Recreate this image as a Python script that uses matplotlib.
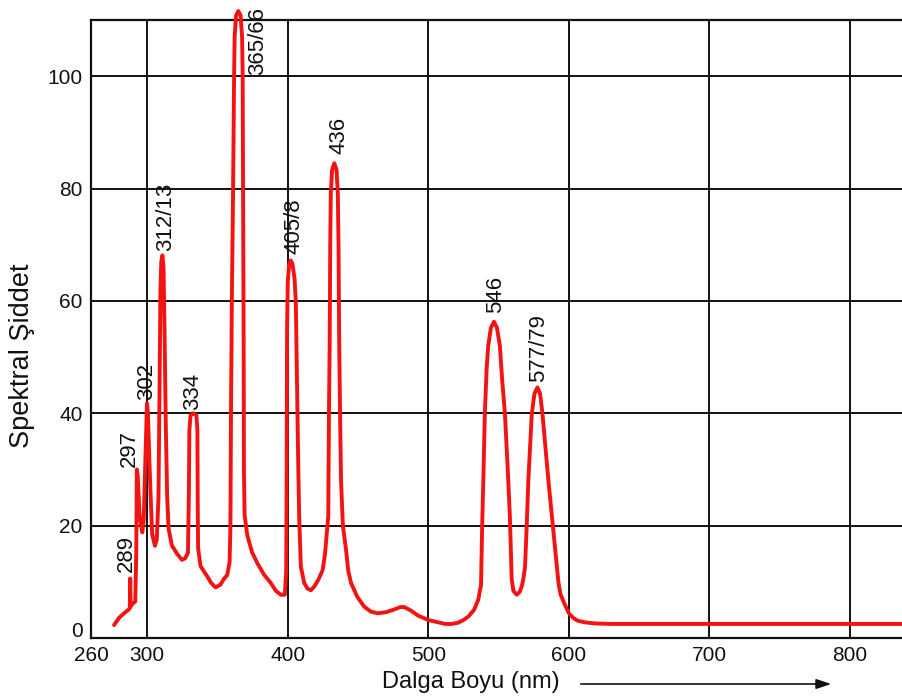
import matplotlib
matplotlib.use("Agg")
import matplotlib.pyplot as plt
from matplotlib.transforms import ScaledTranslation

plt.rcParams['font.family'] = ['Liberation Sans', 'DejaVu Sans']

# traced spectrum (wavelength nm, relative intensity)
wavelength = [
    276.4, 280, 283.5, 286.5, 287.6, 287.9, 288.2, 289.5, 291.5, 292.2, 292.6,
    293.2, 294.5, 296.5, 297.5, 299, 299.8, 300.5, 302, 303.5, 305.5, 306.8,
    308, 308.8, 309.4, 310, 310.8, 311.6, 312.3, 313.2, 314.2, 315.2, 317.5,
    321.2, 324.7, 327, 329, 329.6, 330, 330.8, 332.9, 335, 335.7, 335.9, 336.2,
    337.9, 342.6, 345.5, 348.6, 352.1, 354.5, 356.9, 358.6,
    359.2, 359.6, 360.2, 361.1, 361.8, 362.2, 363.2, 364.8, 366.4, 367.5,
    367.9, 368.2, 368.6, 368.8, 369.3, 371.2, 374.5, 378.4, 383, 387.9, 391.5,
    395, 397.9, 398.9, 399.2, 399.5, 400, 401, 402.1, 403.3, 404.8, 405.7,
    406.3, 406.9, 407.5, 408.1, 409.3, 411.7, 414, 416.4, 419, 422, 424.8,
    426.5, 428.8, 429.3, 429.8, 430.2, 430.6, 431.5, 433.1, 434.7, 435.6,
    436.1, 436.6, 437.2, 437.9, 439.2, 441.4, 443, 445, 449.5, 454.3, 459,
    464, 470, 476, 480, 483, 487.5, 492.6, 500, 506.9, 512, 516.4, 521, 525,
    528.4, 532.5, 535.5, 537.5, 538.3, 539.3, 540.2, 541.5, 542.6, 544.5,
    546.7, 548.8, 550.9, 552.5, 554.5, 556.5, 558, 559.3, 560.5, 562.9, 565,
    566.5, 567.6, 568.8, 570, 571.1, 573.6, 575.5, 577.6, 579.5, 581.2, 585.5,
    590.2, 592.6, 594, 597, 600, 603, 606, 611, 618, 630, 660, 700, 760, 838,
]
intensity = [
    2.3, 3.6, 4.4, 5.0, 5.3, 10.6, 5.6, 6.1, 6.5, 15, 30.0,
    29, 22, 18.8, 21, 35, 41.8, 40, 28, 18.5, 16.4, 17.5,
    25, 45, 62, 67, 68.1, 66, 55, 38, 25, 19.5, 16.5,
    15, 13.9, 14.2, 15.2, 25, 37, 39.6, 40.0, 39.6, 37, 25, 16,
    12.8, 11, 9.8, 9.0, 9.5, 10.5, 11.2, 13.5,
    20, 40, 60, 80, 100, 107, 110.8, 111.6, 110.8, 107,
    100, 80, 52, 30, 21.8, 18.3, 15.3, 13.3, 11.3, 9.8, 8.4,
    7.7, 7.7, 12, 30, 55, 63.5, 66.6, 67.2, 66.6, 64, 60,
    50, 39.9, 30, 21.7, 12.7, 9.8, 8.8, 8.5, 9.2, 10.5, 12.1,
    15, 21.7, 40, 52, 70, 79, 83.3, 84.5, 83.3, 79,
    70, 52, 40, 27.9, 20, 15.8, 12, 9.8, 7.3, 5.6, 4.7,
    4.4, 4.6, 5.1, 5.5, 5.5, 4.9, 4.0, 3.2, 2.8, 2.5, 2.5, 2.7, 3.2,
    3.8, 5.0, 6.8, 9.5, 20, 30, 40, 48, 52, 55.2,
    56.3, 55.2, 52, 46, 39.9, 30, 21.7, 10.5, 8.4, 7.7, 8.2,
    9.2, 10.5, 12.7, 20, 27.8, 39.9, 43.5, 44.6, 43.5, 39.9, 27.8,
    15.8, 9.8, 7.8, 6.0, 4.4, 3.6, 3.1, 2.8, 2.6, 2.5, 2.5, 2.5, 2.5, 2.5,
]

# peak labels: text, x, y of label base
peak_names = ["289", "297", "302", "312/13", "334", "365/66", "405/8", "436", "546", "577/79"]
peak_x = [285.0, 287.3, 299.4, 312.9, 332.1, 378.6, 404.3, 436.4, 547.9, 578.6]
peak_y = [11.7, 30.4, 42.4, 68.9, 40.5, 100.2, 68.4, 86.2, 57.9, 45.5]

x_ticks = [260, 300, 400, 500, 600, 700, 800]
y_ticks = [0, 20, 40, 60, 80, 100]

fig = plt.figure(figsize=(9.03, 7.0), dpi=100)
ax = fig.add_axes([91 / 903, 62 / 700, 812 / 903, 618 / 700])

ax.plot(wavelength, intensity, color='#f21313', lw=2.8,
        solid_joinstyle='round', solid_capstyle='round', clip_on=False, zorder=3)

for name, px, py in zip(peak_names, peak_x, peak_y):
    ax.text(px, py, name, rotation=90, ha='center', va='bottom',
            fontsize=16, color='#111111')

ax.set_xlim(260, 837.7)
ax.set_ylim(0, 110)
ax.set_xticks(x_ticks)
ax.set_yticks(y_ticks)
ax.tick_params(length=0, labelsize=15, pad=6, colors='#111111')
ax.grid(True, color='#111111', lw=1.4)
ax.set_axisbelow(True)
for side in ['left', 'bottom', 'top']:
    ax.spines[side].set_color('#111111')
    ax.spines[side].set_linewidth(1.6)
ax.spines['right'].set_visible(False)

# the "0" sits a little above the bottom line in the original
fig.canvas.draw()
zero_lbl = ax.get_yticklabels()[0]
zero_lbl.set_transform(zero_lbl.get_transform() +
                       ScaledTranslation(0, 6 / 72, fig.dpi_scale_trans))

fig.text(22 / 903, 1 - 356 / 700, "Spektral Şiddet", rotation=90,
         ha='center', va='center', fontsize=19.5, color='#111111')
fig.text(382 / 903, 1 - 682 / 700, "Dalga Boyu (nm)",
         ha='left', va='center', fontsize=17, color='#111111')
fig.add_artist(matplotlib.patches.FancyArrowPatch(
    (578 / 903, 1 - 684 / 700), (834 / 903, 1 - 684 / 700),
    transform=fig.transFigure, arrowstyle='-|>,head_length=9,head_width=3',
    color='#111111', lw=1.2))

fig.savefig("out.png", dpi=100)
